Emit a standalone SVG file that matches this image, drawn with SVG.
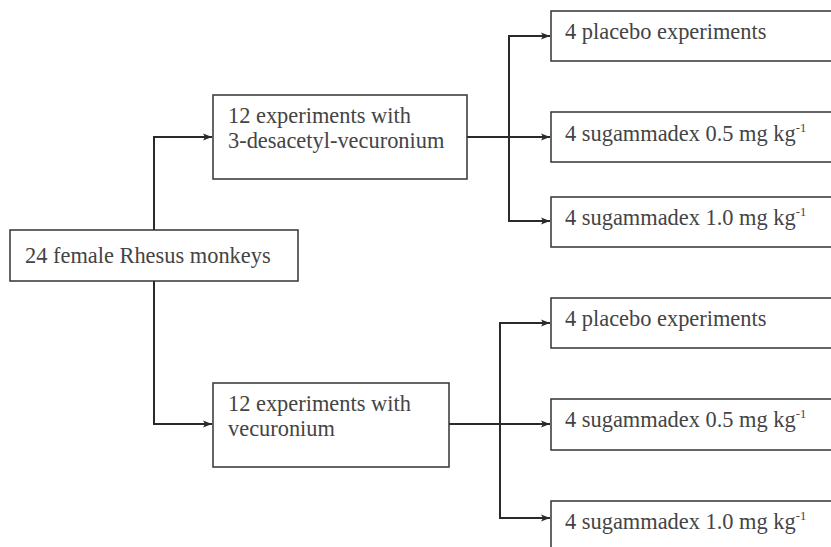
<svg xmlns="http://www.w3.org/2000/svg" width="831" height="547" viewBox="0 0 831 547">
<style>
.box{fill:#fff;stroke:#333;stroke-width:1.5}
.t{font-family:'Liberation Serif','Times New Roman',Tinos,'DejaVu Serif',serif;font-size:22.4px;fill:#444}
.sup{font-size:12.5px}
.c{fill:none;stroke:#2a2a2a;stroke-width:2}
</style>
<defs>
<marker id="ah" markerWidth="10" markerHeight="8" refX="9" refY="4" orient="auto" markerUnits="userSpaceOnUse">
<path d="M0,0.5 L9,4 L0,7.5 L2,4 Z" fill="#2a2a2a"/>
</marker>
</defs>
<rect width="831" height="547" fill="#fff"/>
<g id="connectors">
<path class="c" d="M154,230 V137 H212" marker-end="url(#ah)"/>
<path class="c" d="M154,281 V424 H212" marker-end="url(#ah)"/>
<path class="c" d="M467,137 H550" marker-end="url(#ah)"/>
<path class="c" d="M509,137 V36 H550" marker-end="url(#ah)"/>
<path class="c" d="M509,137 V221 H550" marker-end="url(#ah)"/>
<path class="c" d="M449,424 H550" marker-end="url(#ah)"/>
<path class="c" d="M500,424 V323 H550" marker-end="url(#ah)"/>
<path class="c" d="M500,424 V518 H550" marker-end="url(#ah)"/>
</g>
<g id="root">
<rect class="box" x="10" y="230" width="288" height="51"/>
<text class="t" x="25" y="263">24 female Rhesus monkeys</text>
</g>
<g id="desacetyl">
<rect class="box" x="213" y="95" width="254" height="84"/>
<text class="t" x="228" y="123">12 experiments with</text>
<text class="t" x="228" y="148">3-desacetyl-vecuronium</text>
</g>
<g id="vecuronium">
<rect class="box" x="213" y="383" width="236" height="84"/>
<text class="t" x="228" y="411">12 experiments with</text>
<text class="t" x="228" y="436">vecuronium</text>
</g>
<g id="a-placebo">
<rect class="box" x="551" y="11" width="290" height="50"/>
<text class="t" x="565" y="39">4 placebo experiments</text>
</g>
<g id="a-sug05">
<rect class="box" x="551" y="112" width="290" height="50"/>
<text class="t" x="565" y="141">4 sugammadex 0.5 mg kg<tspan class="sup" dy="-9">-1</tspan></text>
</g>
<g id="a-sug10">
<rect class="box" x="551" y="197" width="290" height="50"/>
<text class="t" x="565" y="225">4 sugammadex 1.0 mg kg<tspan class="sup" dy="-9">-1</tspan></text>
</g>
<g id="b-placebo">
<rect class="box" x="551" y="298" width="290" height="50"/>
<text class="t" x="565" y="326">4 placebo experiments</text>
</g>
<g id="b-sug05">
<rect class="box" x="551" y="399" width="290" height="51"/>
<text class="t" x="565" y="427">4 sugammadex 0.5 mg kg<tspan class="sup" dy="-9">-1</tspan></text>
</g>
<g id="b-sug10">
<rect class="box" x="551" y="501" width="290" height="60"/>
<text class="t" x="565" y="529">4 sugammadex 1.0 mg kg<tspan class="sup" dy="-9">-1</tspan></text>
</g>
</svg>
